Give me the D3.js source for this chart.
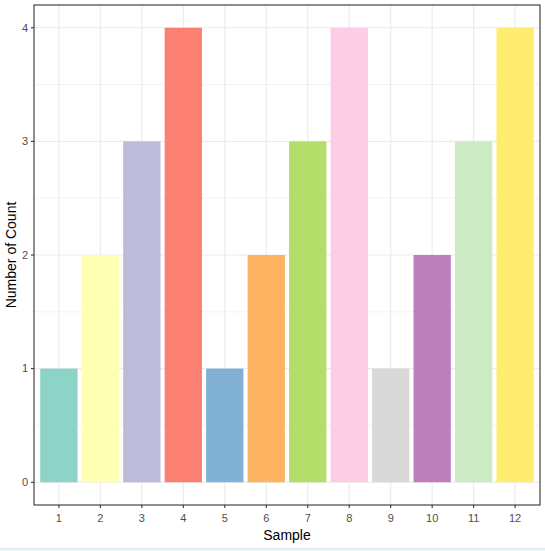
<!DOCTYPE html>
<html><head><meta charset="utf-8">
<script src="https://cdn.jsdelivr.net/npm/d3@7"></script>
<style>body{margin:0;background:#fff}svg{display:block}</style>
</head><body>
<script>
const categories = ["1","2","3","4","5","6","7","8","9","10","11","12"];
const counts = [1,2,3,4,1,2,3,4,1,2,3,4];
const colors = ["#8DD3C7","#FFFFB3","#BEBADA","#FB8072","#80B1D3","#FDB462","#B3DE69","#FCCDE5","#D9D9D9","#BC80BD","#CCEBC5","#FFED6F"];
const yTicks = [0,1,2,3,4];
const yMinor = [0.5,1.5,2.5,3.5];

const W = 545, H = 551;
const m = {left:34, top:5, right:540, bottom:505};
const svg = d3.select("body").append("svg").attr("width",W).attr("height",H);
svg.append("rect").attr("width",W).attr("height",H).attr("fill","#fff");

const x = d3.scaleBand().domain(categories).range([m.left,m.right]).paddingOuter(0.6/ (1)).paddingInner(0);
// discrete expansion: 0.6 units each side
const step = (m.right-m.left)/(categories.length-1+1.2);
const xc = d => m.left + step*(0.6 + categories.indexOf(d));
const y = d3.scaleLinear().domain([-0.2,4.2]).range([m.bottom,m.top]);

const g = svg.append("g");
// minor grid
g.selectAll(".ymin").data(yMinor).enter().append("line")
  .attr("x1",m.left).attr("x2",m.right).attr("y1",d=>y(d)).attr("y2",d=>y(d))
  .attr("stroke","#EBEBEB").attr("stroke-width",0.6);
// major grid
g.selectAll(".ymaj").data(yTicks).enter().append("line")
  .attr("x1",m.left).attr("x2",m.right).attr("y1",d=>y(d)).attr("y2",d=>y(d))
  .attr("stroke","#EBEBEB").attr("stroke-width",1.1);
g.selectAll(".xmaj").data(categories).enter().append("line")
  .attr("x1",d=>xc(d)).attr("x2",d=>xc(d)).attr("y1",m.top).attr("y2",m.bottom)
  .attr("stroke","#EBEBEB").attr("stroke-width",1.1);

// bars
g.selectAll(".bar").data(counts).enter().append("rect")
  .attr("x",(d,i)=>xc(categories[i]) - step*0.45)
  .attr("width",step*0.9)
  .attr("y",d=>y(d)).attr("height",d=>y(0)-y(d))
  .attr("fill",(d,i)=>colors[i]);

// border
svg.append("rect").attr("x",m.left).attr("y",m.top).attr("width",m.right-m.left).attr("height",m.bottom-m.top)
  .attr("fill","none").attr("stroke","#333333").attr("stroke-width",1.1);

// y axis ticks & labels
const ya = svg.append("g");
ya.selectAll("line").data(yTicks).enter().append("line")
  .attr("x1",m.left-3).attr("x2",m.left).attr("y1",d=>y(d)).attr("y2",d=>y(d))
  .attr("stroke","#333333").attr("stroke-width",1.1);
ya.selectAll("text").data(yTicks).enter().append("text")
  .attr("x",m.left-6).attr("y",d=>y(d)).attr("dy","0.35em").attr("text-anchor","end")
  .attr("font-family","Liberation Sans, Arial, sans-serif").attr("font-size",11).attr("fill","#4D4D4D")
  .text(d=>d);

// x axis ticks & labels
const xa = svg.append("g");
xa.selectAll("line").data(categories).enter().append("line")
  .attr("x1",d=>xc(d)).attr("x2",d=>xc(d)).attr("y1",m.bottom).attr("y2",m.bottom+3)
  .attr("stroke","#333333").attr("stroke-width",1.1);
xa.selectAll("text").data(categories).enter().append("text")
  .attr("x",d=>xc(d)).attr("y",m.bottom+17).attr("text-anchor","middle")
  .attr("font-family","Liberation Sans, Arial, sans-serif").attr("font-size",11).attr("fill","#4D4D4D")
  .text(d=>d);

// axis titles
svg.append("text").attr("x",(m.left+m.right)/2).attr("y",540).attr("text-anchor","middle")
  .attr("font-family","Liberation Sans, Arial, sans-serif").attr("font-size",14).attr("fill","#000")
  .text("Sample");
svg.append("text").attr("transform",`translate(16,${(m.top+m.bottom)/2}) rotate(-90)`).attr("text-anchor","middle")
  .attr("font-family","Liberation Sans, Arial, sans-serif").attr("font-size",14).attr("fill","#000")
  .text("Number of Count");

// bottom strip (screenshot artifact)
svg.append("rect").attr("x",0).attr("y",548.5).attr("width",W).attr("height",2.5).attr("fill","#EAF4FA");
svg.append("line").attr("x1",0).attr("x2",W).attr("y1",548.5).attr("y2",548.5).attr("stroke","#D5E8F4").attr("stroke-width",1);
</script>
</body></html>
